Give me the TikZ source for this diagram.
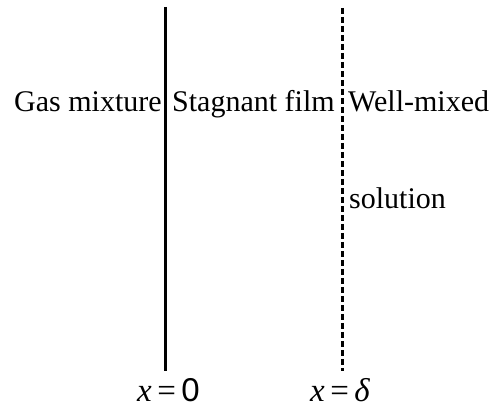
\documentclass[tikz,border=0pt]{standalone}
\usepackage{fontspec}
\setmainfont{Liberation Serif}
\setsansfont{Liberation Sans}
\begin{document}
\begin{tikzpicture}[x=1pt,y=1pt,
  lbl/.style={anchor=base west,inner sep=0pt,font=\fontsize{30}{35}\selectfont},
  eq/.style={anchor=base west,inner sep=0pt,font=\fontsize{33}{38}\selectfont},
  wall/.style={line width=3pt},
  filmedge/.style={line width=3pt,dash pattern=on 6.5pt off 2.5pt}]
\useasboundingbox (0,0) rectangle (499,411);
\coordinate (s1) at (165,404);
\coordinate (s2) at (165,40);
\coordinate (d1) at (342,403);
\coordinate (d2) at (342,40);
\draw[wall] (s1) -- (s2);
\draw[filmedge] (d1) -- (d2);
\node[lbl] (gas) at (14,299) {Gas mixture};
\node[lbl] (film) at (172,299) {Stagnant film};
\node[lbl] (well) at (348,299) {Well-mixed};
\node[lbl] (sol) at (349,202) {solution};
\node[eq] (x0) at (137,9) {\textit{x}\hspace{5.5pt}=\hspace{5.5pt}\textsf{0}};
\node[eq] (xd) at (310,9) {\textit{x}\hspace{5.5pt}=\hspace{5.5pt}\textit{δ}};
\end{tikzpicture}
\end{document}
